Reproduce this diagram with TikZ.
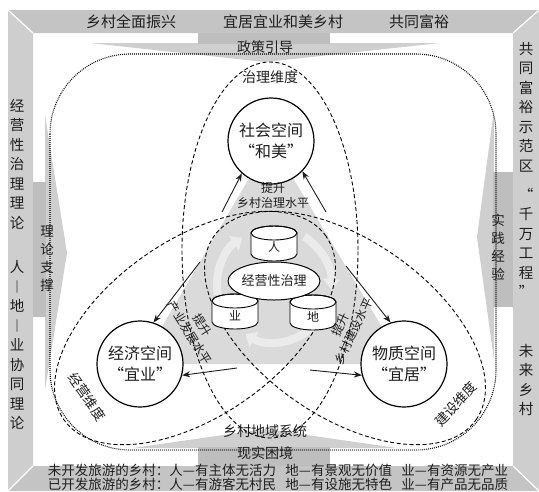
\documentclass[tikz,border=0pt]{standalone}
\usepackage{fontspec}
\setmainfont{Noto Sans CJK SC}
\usetikzlibrary{arrows.meta,shapes.geometric}
\definecolor{bandT}{HTML}{C4C4C4}
\definecolor{bandS}{HTML}{CECECE}
\definecolor{shaftc}{HTML}{BEBEBE}
\definecolor{headc}{HTML}{CFCFCF}
\definecolor{tric}{HTML}{DADADA}
\definecolor{cycc}{HTML}{EBEBEB}
\definecolor{ink}{HTML}{1E1E1E}
\begin{document}
\begin{tikzpicture}[x=1pt,y=1pt,
 every node/.style={text=ink,inner sep=0pt},
 fA/.style={font=\fontsize{15}{18}\selectfont},
 fB/.style={font=\fontsize{14}{17}\selectfont},
 fC/.style={font=\fontsize{13.5}{15}\selectfont},
 fD/.style={font=\fontsize{12}{15}\selectfont},
 vcol/.style={font=\fontsize{14.5}{19.5}\selectfont,align=center},
 vcolb/.style={font=\fontsize{13.5}{18}\selectfont,align=center},
 seam/.style={draw=white,line width=1.2pt},
 dashell/.style={draw=black,line width=0.9pt,dash pattern=on 4pt off 2.5pt},
 dotline/.style={draw=black,line width=1.1pt,dash pattern=on 0.9pt off 1.1pt},
 space/.style={circle,draw=black,line width=1.2pt,fill=white,minimum size=86pt,align=center,font=\fontsize{16}{21}\selectfont},
 cycarrow/.style={draw=cycc,line width=8pt,-{Triangle[length=10pt,width=17pt]}},
 lift/.style={-{Stealth[length=8pt,width=6pt]},line width=0.9pt,draw=ink},
 cylbody/.style={draw=black,line width=0.9pt,fill=white},
]
\useasboundingbox (0,0) rectangle (539,-491);
\fill[white] (0,0) rectangle (539,-491);

% frame
\fill[bandT] (8,-10) -- (539,-10) -- (513,-33) -- (33,-33) -- cycle;
\fill[bandS] (8,-10) -- (33,-33) -- (33,-466) -- (8,-491) -- cycle;
\fill[bandS] (539,-10) -- (539,-491) -- (513,-466) -- (513,-33) -- cycle;
\fill[bandT] (8,-491) -- (33,-466) -- (513,-466) -- (539,-491) -- cycle;
\draw[seam] (8,-10) -- (33,-33);
\draw[seam] (539,-10) -- (513,-33);
\draw[seam] (8,-491) -- (33,-466);
\draw[seam] (539,-491) -- (513,-466);

% gray block arrows
\fill[headc] (90,-43) -- (440,-43) -- (265,-62) -- cycle;
\fill[shaftc] (198,-33) rectangle (330,-44);
\fill[headc] (133,-448) -- (397,-448) -- (265,-429) -- cycle;
\fill[shaftc] (198,-466) rectangle (330,-447);
\fill[headc] (45,-115) -- (45,-390) -- (67,-253) -- cycle;
\fill[shaftc] (33,-182) rectangle (46,-317);
\fill[headc] (494,-110) -- (494,-360) -- (477,-237) -- cycle;
\fill[shaftc] (513,-172) rectangle (493,-307);

% dotted outline
\draw[dotline,rounded corners=80pt] (50,-54) rectangle (496,-450);

% central triangle
\fill[tric] (271,-141) -- (140,-364) -- (404,-364) -- cycle;

% cycle arrows
\coordinate (cc) at (274,-285);
\draw[cycarrow] ([shift={(190:57)}]cc) arc[start angle=190,end angle=124,radius=57];
\draw[cycarrow] ([shift={(58:57)}]cc) arc[start angle=58,end angle=-4,radius=57];
\draw[cycarrow] ([shift={(-45:57)}]cc) arc[start angle=-45,end angle=-120,radius=57];

% dashed ellipses
\draw[dashell] (270,-250) ellipse[x radius=88,y radius=188];
\draw[dashell,rotate around={35:(195,-328)}] (195,-328) ellipse[x radius=160,y radius=88];
\draw[dashell,rotate around={-35:(345,-328)}] (345,-328) ellipse[x radius=160,y radius=88];

% space circles
\node[space] (soc) at (271,-141) {社会空间\\“和美”};
\node[space] (eco) at (140,-364) {经济空间\\“宜业”};
\node[space] (mat) at (404,-364) {物质空间\\“宜居”};

% cylinders
\filldraw[cylbody] (251,-233) -- (251,-254) arc[start angle=180,end angle=360,x radius=23,y radius=7] -- (297,-233) arc[start angle=0,end angle=180,x radius=23,y radius=7] -- cycle;
\draw[line width=0.9pt] (274,-233) ellipse[x radius=23,y radius=7];
\node[fD] (ren) at (274,-247) {人};
\filldraw[cylbody] (212,-301) -- (212,-322) arc[start angle=180,end angle=360,x radius=23,y radius=7] -- (258,-301) arc[start angle=0,end angle=180,x radius=23,y radius=7] -- cycle;
\draw[line width=0.9pt] (235,-301) ellipse[x radius=23,y radius=7];
\node[fD] (ye) at (235,-316) {业};
\filldraw[cylbody] (290,-302) -- (290,-323) arc[start angle=180,end angle=360,x radius=23,y radius=7] -- (336,-302) arc[start angle=0,end angle=180,x radius=23,y radius=7] -- cycle;
\draw[line width=0.9pt] (313,-302) ellipse[x radius=23,y radius=7];
\node[fD] (di) at (313,-317) {地};
\node[ellipse,draw=black,line width=1pt,fill=white,minimum width=88pt,minimum height=38pt,font=\fontsize{13}{15}\selectfont] (gov) at (274,-281) {经营性治理};

% lift arrows
\coordinate (a1) at (222,-212);
\coordinate (a2) at (326,-212);
\coordinate (a3) at (200,-262);
\coordinate (a4) at (237,-368);
\coordinate (a5) at (346,-266);
\coordinate (a6) at (310,-370);
\draw[lift] (a1) -- (soc.228);
\draw[lift] (a2) -- (soc.316);
\draw[lift] (a3) -- (eco.72);
\draw[lift] (a4) -- (eco.345);
\draw[lift] (a5) -- (mat.108);
\draw[lift] (a6) -- (mat.195);

% lift labels
\node[fD,align=center] (l1) at (273,-195) {提升\\乡村治理水平};
\node[fD,align=center,rotate=-58] (l2) at (196,-329) {提升\\产业发展水平};
\node[fD,align=center,rotate=65] (l3) at (347,-328) {提升\\乡村建设水平};

% dimension labels
\node[fB] (d1) at (270,-77) {治理维度};
\node[fC,rotate=-55] (d2) at (87,-397) {经营维度};
\node[fC,rotate=47] (d3) at (456,-404) {建设维度};
\node[fB] (sys) at (265,-431) {乡村地域系统};

% band texts
\node[fA] (t1) at (131,-22) {乡村全面振兴};
\node[fA] (t2) at (283,-22) {宜居宜业和美乡村};
\node[fA] (t3) at (419,-22) {共同富裕};
\node[fB] (pol) at (265,-47) {政策引导};
\node[fB] (rea) at (265,-453) {现实困境};
\node[vcol] (lc1) at (17,-164) {经\\营\\性\\治\\理\\理\\论};
\node[vcol] (lc2) at (17,-345) {人\\︱\\地\\︱\\业\\协\\同\\理\\论};
\node[vcolb] (lt) at (47,-259) {理\\论\\支\\撑};
\node[vcol] (rc1) at (526,-107) {共\\同\\富\\裕\\示\\范\\区};
\node[vcol] (rc2) at (526,-243) {“\\千\\万\\工\\程\\”};
\node[vcol] (rc3) at (526,-380) {未\\来\\乡\\村};
\node[vcolb] (rt) at (498,-247) {实\\践\\经\\验};
\node[fC] (b1) at (278,-470) {未开发旅游的乡村：人—有主体无活力\hspace{0.7em}地—有景观无价值\hspace{0.7em}业—有资源无产业};
\node[fC] (b2) at (278,-484.5) {已开发旅游的乡村：人—有游客无村民\hspace{0.7em}地—有设施无特色\hspace{0.7em}业—有产品无品质};
\end{tikzpicture}
\end{document}
